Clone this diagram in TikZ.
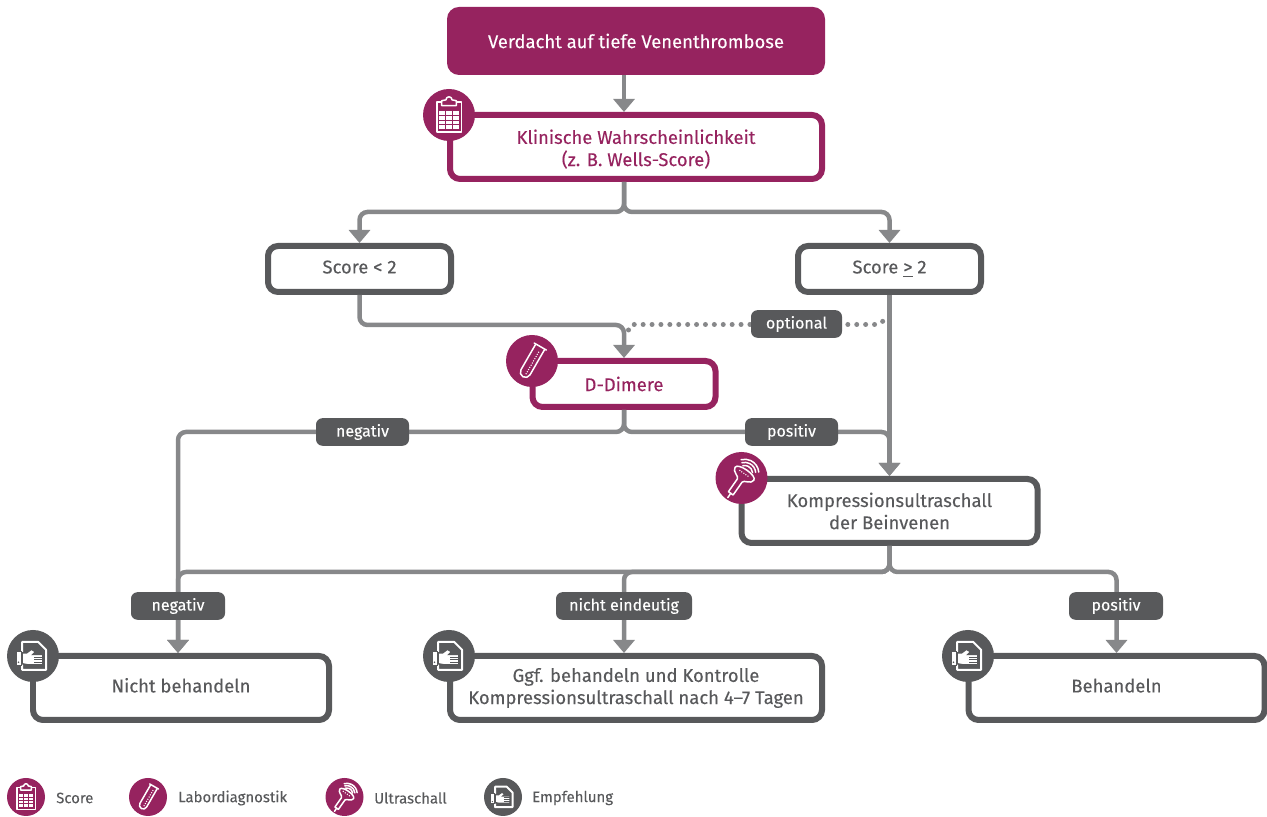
\documentclass[tikz,border=0pt]{standalone}
\usepackage{fontspec}
\setmainfont{Fira Sans}[FakeBold=0.15]
\usetikzlibrary{arrows.meta}
\definecolor{plum}{HTML}{96235F}
\definecolor{slate}{HTML}{58595B}
\definecolor{steel}{HTML}{87888A}
\tikzset{
  boxfull/.style={rectangle,rounded corners=.24cm,fill=plum,text=white,font=\fontsize{10.5}{12.6}\selectfont,align=center},
  boxplum/.style={rectangle,draw=plum,fill=white,line width=.12cm,rounded corners=.2cm,text=plum,font=\fontsize{10.5}{12.6}\selectfont,align=center},
  boxgrey/.style={boxplum,draw=slate,text=slate},
  tagpill/.style={rectangle,fill=slate,rounded corners=.13cm,text=white,minimum height=.52cm,font=\fontsize{9.1}{10}\selectfont},
  conn/.style={draw=steel,line width=.09cm,rounded corners=.16cm},
  connarrow/.style={conn,-{Triangle[width=.42cm,length=.26cm]}},
  dotconn/.style={draw=steel,line width=.1cm,line cap=round,dash pattern=on 0pt off .178cm,rounded corners=.1cm},
  iconplum/.style={circle,fill=plum,inner sep=0pt,minimum size=1.04cm},
  icongrey/.style={iconplum,fill=slate},
  legendtext/.style={anchor=west,text=slate,font=\fontsize{8.5}{10}\selectfont},
  iconline/.style={draw=white,line width=.03cm,line join=round,line cap=round},
  pics/clipicon/.style={code={
    \draw[iconline] (-.47,.5) rectangle (.49,-.65);
    \draw[iconline,fill=plum] (-.28,.36) -- (-.28,.55) -- (-.12,.58) arc (180:0:.12) -- (.28,.55) -- (.28,.36) -- cycle;
    \fill[white] (-.37,.15) rectangle (.37,-.52);
    \foreach \r in {-.02,-.19,-.36}
      \draw[plum,line width=.016cm] (-.37,\r) -- (.37,\r);
    \foreach \c in {-.12,.13}
      \draw[plum,line width=.016cm] (\c,.15) -- (\c,-.52);
  }},
  pics/tubeicon/.style={code={
    \begin{scope}[rotate=-30]
    \draw[iconline] (-.2,.62) -- (-.2,-.5) arc (180:360:.2) -- (.2,.62);
    \draw[iconline] (-.27,.64) -- (.27,.64);
    \draw[iconline,line width=.03cm,dash pattern=on 0pt off .05cm] (.05,.42) -- (.05,-.55);
    \end{scope}
  }},
  pics/probeicon/.style={code={
    \begin{scope}[rotate=-35]
    \draw[iconline] (-.11,-.72) -- (-.11,-.12) .. controls (-.11,0) and (-.44,0) .. (-.44,.2) .. controls (-.44,.42) and (.44,.42) .. (.44,.2) .. controls (.44,0) and (.11,0) .. (.11,-.12) -- (.11,-.72) -- cycle;
    \draw[iconline] (0,-.72) -- (0,-.92);
    \draw[iconline,dash pattern=on 0pt off .05cm] (-.22,.2) -- (.24,.2);
    \foreach \rad in {.3,.42,.54}
      \draw[iconline] (40:\rad) ++(0,.22) arc (40:140:\rad);
    \end{scope}
  }},
  pics/handicon/.style={code={
    \draw[iconline,line width=.04cm] (-.42,.54) -- (.2,.54) -- (.5,.24) -- (.5,-.53) -- (-.42,-.53) -- cycle;
    \draw[draw=slate,line width=.02cm,fill=white] (-.64,.16) rectangle (-.46,-.36);
    \fill[slate] (-.56,-.24) circle (.035);
    \draw[draw=slate,line width=.03cm,fill=white] (-.42,.12) -- (-.25,.12) -- (-.06,.26) -- (.1,.16) -- (0,.06) -- (.38,.06)
      -- (.38,-.34) -- (-.2,-.34) -- (-.42,-.3) -- cycle;
    \foreach \r in {-.04,-.14,-.24}
      \draw[slate,line width=.014cm] (.04,\r) -- (.38,\r);
  }},
}
\begin{document}
\begin{tikzpicture}
\useasboundingbox (0,0) rectangle (25.34,16.34);
\node[boxfull,minimum width=7.56cm,minimum height=1.36cm] (start) at (12.72,15.52) {Verdacht auf tiefe Venenthrombose};
\node[boxplum,minimum width=7.44cm,minimum height=1.28cm] (klin) at (12.72,13.40) {\rule{0pt}{10.6pt}Klinische Wahrscheinlichkeit\\(z. B. Wells-Score)};
\node[boxgrey,minimum width=3.66cm,minimum height=.92cm] (scoreLo) at (7.19,10.96) {\strut Score < 2};
\node[boxgrey,minimum width=3.66cm,minimum height=.92cm] (scoreHi) at (17.79,10.96) {\strut Score \smash{\underline{>}} 2};
\node[boxplum,minimum width=3.66cm,minimum height=.92cm] (dimer) at (12.48,8.66) {D-Dimere};
\node[boxgrey,minimum width=5.92cm,minimum height=1.28cm] (komp) at (17.79,6.12) {Kompressionsultraschall\\der Beinvenen};
\node[boxgrey,minimum width=5.92cm,minimum height=1.28cm] (nicht) at (3.62,2.58) {\strut Nicht behandeln};
\node[boxgrey,minimum width=7.44cm,minimum height=1.28cm] (ggf) at (12.72,2.58) {Ggf. behandeln und Kontrolle\\Kompressionsultraschall nach 4–7 Tagen};
\node[boxgrey,minimum width=5.92cm,minimum height=1.28cm] (beh) at (22.33,2.58) {\strut Behandeln};

\coordinate (splitA) at (12.48,12.10);
\coordinate (splitB) at (12.48,9.84);
\coordinate (splitC) at (12.48,7.70);
\coordinate (splitD) at (17.79,4.90);
\coordinate (splitE) at (3.56,4.90);
\coordinate (dropN) at (3.56,1.0);
\coordinate (dotL) at (12.57,9.74);
\coordinate (dotM) at (17.6,9.85);
\coordinate (dotR) at (17.69,9.95);

\draw[connarrow] (start.south -| splitA) -- (klin.north -| splitA);
\draw[connarrow] (klin.south -| splitA) -- (splitA) -| (scoreLo.north);
\draw[connarrow] (klin.south -| splitA) -- (splitA) -| (scoreHi.north);
\draw[connarrow] (scoreLo.south) |- (splitB) -- (dimer.north);
\draw[connarrow] (scoreHi.south) -- (komp.north);
\draw[dotconn] (dotL) |- (dotM) -- (dotR);
\draw[connarrow] (dimer.south) -- (splitC) -| (nicht.north -| dropN);
\draw[connarrow] (dimer.south) -- (splitC) -| (komp.north);
\draw[connarrow] (komp.south) -- (splitD) -- (splitE) -- (nicht.north -| dropN);
\draw[connarrow] (komp.south) -- (splitD) -| (ggf.north -| splitA);
\draw[connarrow] (komp.south) -- (splitD) -| (beh.north);

\node[tagpill,minimum width=1.82cm] (tagOpt) at (15.93,9.86) {optional};
\node[tagpill,minimum width=1.86cm] (tagNegA) at (7.25,7.70) {negativ};
\node[tagpill,minimum width=1.86cm] (tagPosA) at (15.83,7.70) {positiv};
\node[tagpill,minimum width=1.88cm] (tagNegB) at (3.56,4.22) {negativ};
\node[tagpill,minimum width=2.72cm] (tagUnk) at (12.48,4.22) {nicht eindeutig};
\node[tagpill,minimum width=1.88cm] (tagPosB) at (22.32,4.22) {positiv};

\node[iconplum] (icoKlin) at (8.98,14.04) {};
\pic[scale=.52] at (icoKlin) {clipicon};
\node[iconplum] (icoDimer) at (10.64,9.12) {};
\pic[scale=.52] at (icoDimer) {tubeicon};
\node[iconplum] (icoKomp) at (14.83,6.78) {};
\pic[scale=.52] at (icoKomp) {probeicon};
\node[icongrey] (icoNicht) at (.66,3.22) {};
\pic[scale=.52] at (icoNicht) {handicon};
\node[icongrey] (icoGgf) at (8.98,3.22) {};
\pic[scale=.52] at (icoGgf) {handicon};
\node[icongrey] (icoBeh) at (19.36,3.22) {};
\pic[scale=.52] at (icoBeh) {handicon};

\node[iconplum,minimum size=.76cm] (legScore) at (.52,.40) {};
\pic[scale=.38] at (legScore) {clipicon};
\node[legendtext] at (1.0,.38) {Score};
\node[iconplum,minimum size=.76cm] (legLabor) at (2.96,.40) {};
\pic[scale=.38] at (legLabor) {tubeicon};
\node[legendtext] at (3.44,.38) {Labordiagnostik};
\node[iconplum,minimum size=.76cm] (legUltra) at (6.89,.40) {};
\pic[scale=.38] at (legUltra) {probeicon};
\node[legendtext] at (7.36,.38) {Ultraschall};
\node[icongrey,minimum size=.76cm] (legEmpf) at (10.06,.40) {};
\pic[scale=.38] at (legEmpf) {handicon};
\node[legendtext] at (10.52,.38) {Empfehlung};
\end{tikzpicture}
\end{document}
